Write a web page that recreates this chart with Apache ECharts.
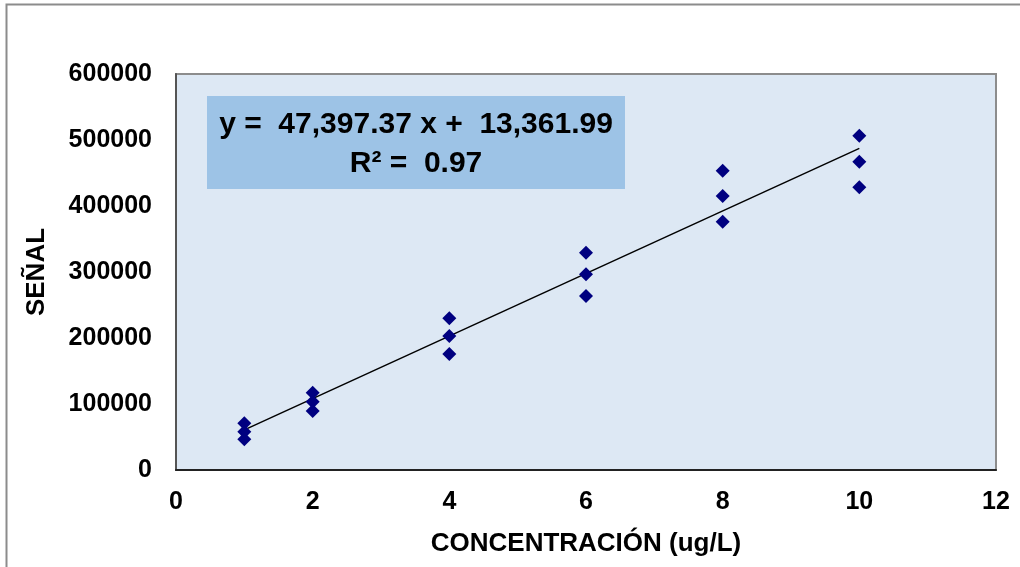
<!DOCTYPE html>
<html>
<head>
<meta charset="utf-8">
<script src="https://cdn.jsdelivr.net/npm/echarts@6/dist/echarts.min.js"></script>
<style>
  html, body { margin: 0; padding: 0; background: #fff; }
  #chart { width: 1020px; height: 567px; }
</style>
</head>
<body>
<div id="chart"></div>
<script>
// concentraciones (ug/L) y señal, tres réplicas por nivel
let conc = [1, 2, 4, 6, 8, 10];
let rep1 = [70700, 117100, 229800, 329200, 453500, 506500];
let rep2 = [58000, 103500, 203000, 296500, 415100, 467100];
let rep3 = [46500, 89400, 175700, 263600, 376200, 428300];
// recta de calibración mostrada en el gráfico
let slope = 47397.37;
let intercept = 13361.99;
let r2 = 0.97;
let trendX = [1, 10];

let points = [];
for (let i in conc) {
    points.push([conc[i], rep1[i]]);
    points.push([conc[i], rep2[i]]);
    points.push([conc[i], rep3[i]]);
}
let trend = trendX.map(function (x) { return [x, slope * x + intercept]; });

function fmt(v) {
    return v.toLocaleString('en-US', { minimumFractionDigits: 2, maximumFractionDigits: 2 });
}

let font = 'Liberation Sans, Arial, sans-serif';
let myChart = echarts.init(document.getElementById('chart'));
let option = {
    animation: false,
    grid: {
        left: 176,
        right: 24,
        top: 74,
        bottom: 97,
        show: true,
        backgroundColor: '#dde8f4',
        borderColor: '#8c8c8c',
        borderWidth: 2
    },
    xAxis: {
        type: 'value',
        min: 0,
        max: 12,
        interval: 2,
        name: 'CONCENTRACIÓN (ug/L)',
        nameLocation: 'middle',
        nameGap: 61,
        nameTextStyle: { fontFamily: font, fontWeight: 'bold', fontSize: 26, color: '#000' },
        axisLine: { show: true, onZero: false, lineStyle: { color: '#222', width: 2 } },
        axisTick: { show: false },
        splitLine: { show: false },
        axisLabel: { margin: 20, fontFamily: font, fontWeight: 'bold', fontSize: 25, color: '#000' }
    },
    yAxis: {
        type: 'value',
        min: 0,
        max: 600000,
        interval: 100000,
        name: 'SEÑAL',
        nameLocation: 'middle',
        nameGap: 126,
        nameTextStyle: { fontFamily: font, fontWeight: 'bold', fontSize: 26, color: '#000' },
        axisLine: { show: true, lineStyle: { color: '#555', width: 2 } },
        axisTick: { show: false },
        splitLine: { show: false },
        axisLabel: {
            margin: 24, fontFamily: font, fontWeight: 'bold', fontSize: 25, color: '#000',
            formatter: function (v) { return String(v); }
        }
    },
    graphic: [
        {
            type: 'rect',
            left: 4, top: 2,
            shape: { width: 1100, height: 700 },
            style: { fill: 'none', stroke: '#8c8c8c', lineWidth: 2 },
            silent: true
        },
        {
            type: 'rect',
            left: 207, top: 96,
            shape: { width: 418, height: 93 },
            style: { fill: '#9dc3e6' },
            z: 10
        },
        {
            type: 'text',
            x: 416, y: 144,
            style: {
                text: 'y =  ' + fmt(slope) + ' x +  ' + fmt(intercept) + '\nR² =  ' + r2.toFixed(2),
                font: 'bold 30px ' + font,
                fill: '#000',
                align: 'center',
                verticalAlign: 'middle',
                lineHeight: 39
            },
            z: 11
        }
    ],
    series: [
        {
            type: 'line',
            data: trend,
            symbol: 'none',
            lineStyle: { color: '#000', width: 1.5 },
            z: 3
        },
        {
            type: 'scatter',
            data: points,
            symbol: 'diamond',
            symbolSize: 14,
            itemStyle: { color: '#000080', opacity: 1 },
            z: 4
        }
    ]
};
myChart.setOption(option);
</script>
</body>
</html>
